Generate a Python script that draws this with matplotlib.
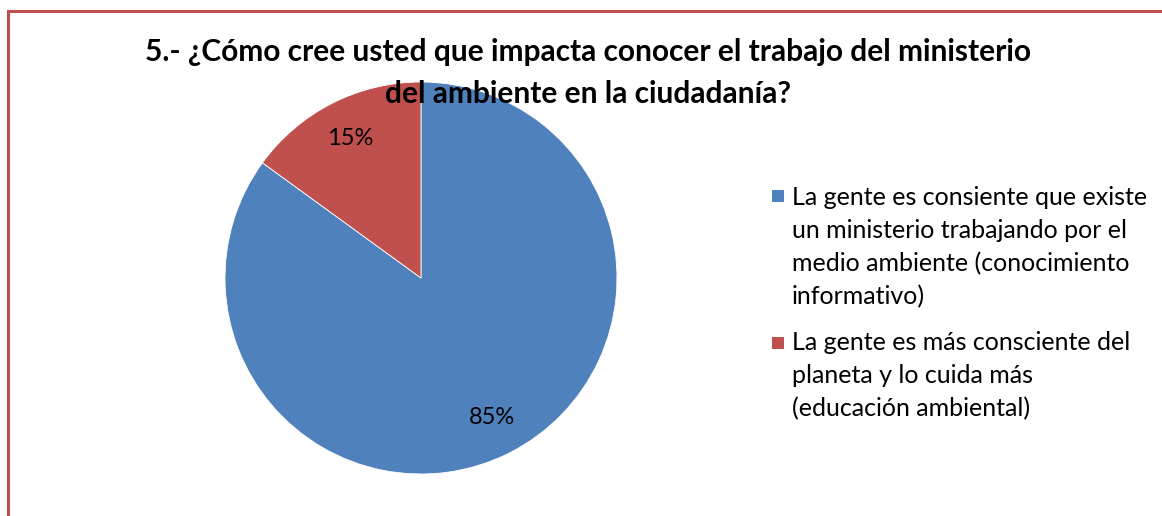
import matplotlib
matplotlib.use('Agg')
import matplotlib.pyplot as plt
from matplotlib.patches import Rectangle

# data
title = '5.- ¿Cómo cree usted que impacta conocer el trabajo del ministerio\ndel ambiente en la ciudadanía?'
labels = [
    'La gente es consiente que existe\nun ministerio trabajando por el\nmedio ambiente (conocimiento\ninformativo)',
    'La gente es más consciente del\nplaneta y lo cuida más\n(educación ambiental)',
]
values = [85, 15]
colors = ['#4F81BD', '#C0504D']

W, H = 1162, 516
plt.rcParams['font.family'] = ['Lato', 'DejaVu Sans']

fig = plt.figure(figsize=(W / 100, H / 100), dpi=100)

# chart frame (only top/left edge visible in the original crop)
fig.patches.append(Rectangle((8 / W, -0.5), 1.2, 0.5 + (H - 11) / H, transform=fig.transFigure,
                             fill=False, edgecolor='#C0504D', linewidth=2.2, clip_on=False))

# pie axes: centre (421, 278), radius 196 px
cx, cy, r = 421, 278, 196
ax = fig.add_axes([(cx - r) / W, (H - cy - r) / H, 2 * r / W, 2 * r / H])
wedges, texts, autotexts = ax.pie(values, colors=colors, startangle=90, counterclock=False,
                                  autopct='%1.0f%%', pctdistance=0.8, radius=1,
                                  wedgeprops=dict(edgecolor='white', linewidth=0.6),
                                  textprops=dict(fontsize=17, color='black'))
ax.set_xlim(-1, 1)
ax.set_ylim(-1, 1)
ax.set_aspect('equal')
ax.axis('off')

fig.text(588 / W, 1 - 38 / H, title, ha='center', va='top', fontsize=21.5,
         fontweight='bold', linespacing=1.6)

# legend, square aligned with first line of each entry
entry_tops = [186, 331]
square_tops = [190, 337]
for lab, col, top, sq in zip(labels, colors, entry_tops, square_tops):
    fig.patches.append(Rectangle((772 / W, 1 - (sq + 12) / H), 12 / W, 12 / H,
                                 transform=fig.transFigure, facecolor=col, edgecolor='none'))
    fig.text(792 / W, 1 - top / H, lab, ha='left', va='top', fontsize=18, linespacing=1.52)

fig.savefig('out.png', dpi=100)
